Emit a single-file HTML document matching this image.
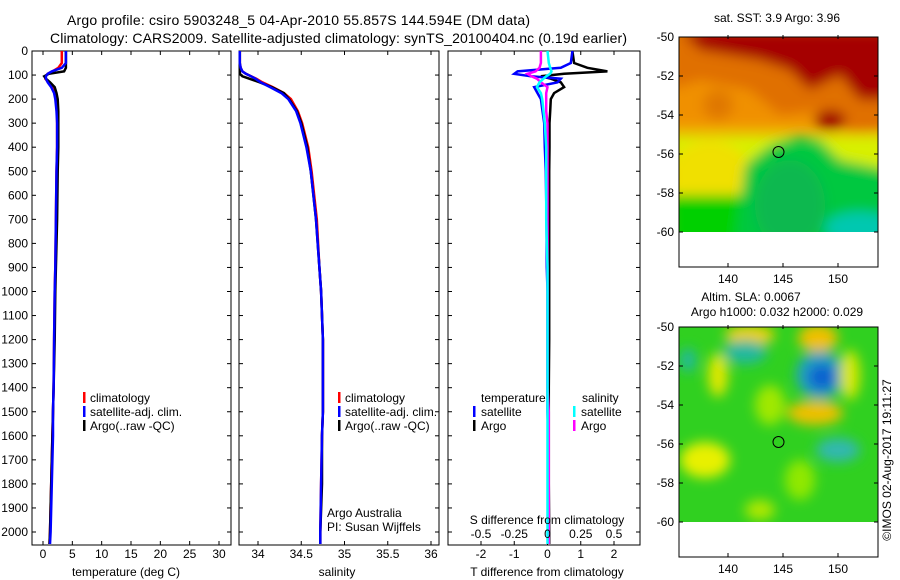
<!DOCTYPE html>
<html><head><meta charset="utf-8"><style>
html,body{margin:0;padding:0;background:#fff;}
svg{display:block;font-family:"Liberation Sans",sans-serif;}
</style></head><body>
<svg id="c" width="900" height="580" viewBox="0 0 900 580">
<defs>
<filter id="blur" x="-20%" y="-20%" width="140%" height="140%"><feGaussianBlur stdDeviation="6"/></filter>
<clipPath id="clipTop"><rect x="679" y="37" width="199" height="195"/></clipPath>
<clipPath id="clipBot"><rect x="679" y="327" width="199" height="195"/></clipPath>
</defs>
<text x="67" y="25" font-size="14" textLength="463">Argo profile: csiro 5903248_5 04-Apr-2010 55.857S 144.594E (DM data)</text>
<text x="50" y="43" font-size="14" textLength="577">Climatology: CARS2009. Satellite-adjusted climatology: synTS_20100404.nc (0.19d earlier)</text>

<!-- top map -->
<g>
<g clip-path="url(#clipTop)">
<rect x="679" y="37" width="199" height="195" fill="#f0a800"/>
<g filter="url(#blur)">
<rect x="670" y="135" width="220" height="80" fill="#d8f000"/>
<ellipse cx="710" cy="175" rx="40" ry="35" fill="#f0e000"/>
<rect x="670" y="195" width="220" height="60" fill="#00d000"/>
<polygon points="745,165 770,145 800,135 820,140 840,160 890,170 890,240 735,240" fill="#00c840"/>
<ellipse cx="790" cy="205" rx="35" ry="45" fill="#10b850"/>
<ellipse cx="860" cy="228" rx="35" ry="16" fill="#00c8b0"/>
<rect x="670" y="80" width="220" height="45" fill="#f09000"/>
<polygon points="670,30 890,30 890,130 850,132 820,110 780,115 750,90 700,80 670,90" fill="#e07000"/>
<polygon points="680,30 890,30 890,100 860,100 840,75 810,90 790,70 760,60 700,50" fill="#a50000"/>
<ellipse cx="830" cy="120" rx="16" ry="10" fill="#a00000"/>
<ellipse cx="718" cy="105" rx="15" ry="15" fill="#e07800"/>
</g>
</g>
<rect x="679" y="37" width="199" height="230" fill="none" stroke="#000" stroke-width="1"/>
<circle cx="778.5" cy="152" r="5.5" fill="none" stroke="#000" stroke-width="1"/>
</g>
<text x="777" y="22" font-size="12" text-anchor="middle">sat. SST: 3.9 Argo: 3.96</text>

<!-- bottom map -->
<g>
<g clip-path="url(#clipBot)">
<rect x="679" y="327" width="199" height="195" fill="#30d020"/>
<g filter="url(#blur)">
<ellipse cx="750" cy="335" rx="25" ry="10" fill="#f0d000"/>
<ellipse cx="818" cy="338" rx="20" ry="14" fill="#f0c000"/>
<ellipse cx="745" cy="352" rx="22" ry="12" fill="#20b8a0"/>
<ellipse cx="718" cy="375" rx="10" ry="22" fill="#e0e800"/>
<ellipse cx="688" cy="360" rx="8" ry="12" fill="#20b8a0"/>
<ellipse cx="820" cy="375" rx="24" ry="24" fill="#20a0c0"/>
<ellipse cx="822" cy="377" rx="14" ry="13" fill="#1060d0"/>
<ellipse cx="815" cy="413" rx="28" ry="12" fill="#f0c000"/>
<ellipse cx="850" cy="375" rx="10" ry="25" fill="#d8e800"/>
<ellipse cx="838" cy="450" rx="22" ry="12" fill="#30b8b0"/>
<ellipse cx="705" cy="460" rx="25" ry="18" fill="#e8f000"/>
<ellipse cx="770" cy="405" rx="15" ry="20" fill="#a0e800"/>
<ellipse cx="800" cy="480" rx="15" ry="20" fill="#90e800"/>
<ellipse cx="760" cy="510" rx="15" ry="10" fill="#b0e800"/>
</g>
</g>
<rect x="679" y="327" width="199" height="230" fill="none" stroke="#000" stroke-width="1"/>
<circle cx="778.5" cy="442" r="5.5" fill="none" stroke="#000" stroke-width="1"/>
</g>
<text x="751" y="301" font-size="12" text-anchor="middle">Altim. SLA: 0.0067</text>
<text x="777" y="316" font-size="12" text-anchor="middle">Argo h1000: 0.032 h2000: 0.029</text>
<text x="0" y="0" font-size="12" text-anchor="middle" transform="translate(891,460) rotate(-90)">©IMOS 02-Aug-2017 19:11:27</text>

<g id="plots"></g>
</svg>
<script>
// depths (m) shared by profiles
const depthT = [0, 50, 70, 85, 95, 105, 115, 130, 150, 175, 200, 250, 300, 400, 500, 700, 900, 1000, 1200, 1400, 1500, 1600, 1800, 2000, 2050];
const tempClim = [3.2, 3.2, 2.6, 1.6, 0.8, 0.4, 0.4, 0.9, 1.6, 2.0, 2.2, 2.4, 2.4, 2.4, 2.3, 2.2, 2.1, 2.0, 1.9, 1.8, 1.7, 1.6, 1.4, 1.2, 1.1];
const tempSat = [3.9, 3.9, 3.2, 1.5, 0.8, 0.5, 0.5, 0.8, 1.4, 1.9, 2.1, 2.3, 2.4, 2.4, 2.3, 2.2, 2.1, 2.0, 1.9, 1.8, 1.7, 1.7, 1.5, 1.3, 1.2];
const tempArgo = [3.9, 3.9, 3.9, 3.6, 1.0, 0.2, 0.5, 1.2, 2.0, 2.3, 2.5, 2.6, 2.6, 2.6, 2.5, 2.4, 2.2, 2.1, 2.0, 1.8, 1.7, 1.6, 1.4, 1.2, 1.1];
const salClim = [33.79, 33.79, 33.80, 33.82, 33.86, 33.92, 33.98, 34.05, 34.17, 34.30, 34.38, 34.46, 34.51, 34.58, 34.62, 34.68, 34.71, 34.73, 34.75, 34.75, 34.75, 34.74, 34.73, 34.72, 34.72];
const salSat = [33.79, 33.79, 33.80, 33.82, 33.86, 33.92, 33.97, 34.03, 34.14, 34.27, 34.35, 34.44, 34.49, 34.56, 34.61, 34.67, 34.71, 34.73, 34.75, 34.75, 34.75, 34.74, 34.73, 34.72, 34.72];
const salArgo = [33.79, 33.79, 33.79, 33.79, 33.79, 33.82, 33.90, 34.02, 34.16, 34.30, 34.36, 34.45, 34.50, 34.57, 34.61, 34.67, 34.71, 34.73, 34.75, 34.75, 34.75, 34.74, 34.74, 34.72, 34.72];
const dTSat = [0.75, 0.7, 0.4, -0.9, -1.0, -0.5, 0.4, 0.3, -0.4, -0.3, -0.2, -0.15, -0.1, -0.08, -0.05, -0.03, -0.02, 0, 0, 0, 0, 0.02, 0.02, 0.03, 0.03];
const dTArgo = [0.75, 0.8, 1.2, 1.8, 0.5, -0.2, 0.1, 0.4, 0.5, 0.2, 0.1, 0.08, 0.06, 0.06, 0.05, 0.05, 0.05, 0.05, 0.05, 0.04, 0.04, 0.04, 0.04, 0.05, 0.05];
const dSSat = [0, 0.01, 0.02, 0.03, 0.02, -0.01, -0.03, -0.06, -0.08, -0.05, -0.04, -0.03, -0.02, -0.01, -0.01, -0.01, 0, 0, 0, 0, 0, 0, 0, 0, 0];
const dSArgo = [-0.05, -0.05, -0.06, -0.09, -0.15, -0.12, -0.08, -0.05, 0.0, -0.01, -0.01, -0.01, 0, 0, 0, 0, 0, 0, 0, 0, 0.01, 0.01, 0.01, 0.01, 0.01];
const depthTicks = [0,100,200,300,400,500,600,700,800,900,1000,1100,1200,1300,1400,1500,1600,1700,1800,1900,2000];
const tempTicks = [0,5,10,15,20,25,30];
const salTicks = [34,34.5,35,35.5,36];
const tdTicks = [-2,-1,0,1,2];
const sdTicks = [-0.5,-0.25,0,0.25,0.5];
const lonTicks = [140,145,150];
const latTicks = [-50,-52,-54,-56,-58,-60];

const NS='http://www.w3.org/2000/svg';
const root=document.getElementById('plots');
function mk(tag,attrs,parent){const e=document.createElementNS(NS,tag);for(const k in attrs)e.setAttribute(k,attrs[k]);(parent||root).appendChild(e);return e;}
const Y0=51, Y1=545;
const yD = d => Y0 + d*0.2405;
function lin(d0,d1,r0,r1){return v=>r0+(v-d0)*(r1-r0)/(d1-d0);}
const xT = lin(0,30,43,219);
const xS = lin(34,36,258,431);
const xTD = lin(-2,2,481,614);
const xSD = lin(-0.5,0.5,481,614);

function box(x0,x1,name){
  const r=mk('rect',{x:x0,y:Y0,width:x1-x0,height:Y1-Y0,fill:'none',stroke:'#000','stroke-width':1});
  
  
  depthTicks.forEach(d=>{
    mk('line',{x1:x0,x2:x0+4,y1:yD(d),y2:yD(d),stroke:'#000'});
    mk('line',{x1:x1-4,x2:x1,y1:yD(d),y2:yD(d),stroke:'#000'});
  });
}
function xticks(ticks,sc,labels,ly){
  ticks.forEach(t=>{
    mk('line',{x1:sc(t),x2:sc(t),y1:Y0,y2:Y0+4,stroke:'#000'});
    mk('line',{x1:sc(t),x2:sc(t),y1:Y1-4,y2:Y1,stroke:'#000'});
    if(labels){const tx=mk('text',{x:sc(t),y:ly,'font-size':12,'text-anchor':'middle'});tx.textContent=String(t);
      
      }
  });
}
function line(vals,sc,color,name){
  let d='';
  vals.forEach((v,i)=>{d+=(i?'L':'M')+sc(v).toFixed(1)+','+yD(depthT[i]).toFixed(1);});
  const p=mk('path',{d:d,fill:'none',stroke:color,'stroke-width':2.5});
  
  
}
function txt(x,y,s,name,anchor){const t=mk('text',{x:x,y:y,'font-size':12,'text-anchor':anchor||'start'});t.textContent=s;
  
  return t;}
function legbar(x,y,color){mk('rect',{x:x,y:y-10,width:2.5,height:11,fill:color});}

depthTicks.forEach(d=>{txt(28,yD(d)+4,String(d),'y-tick-label','end');});

box(32,231,'temperature-panel');
xticks(tempTicks,xT,true,558);
line(tempClim,xT,'#f00','temp-climatology-line');
line(tempArgo,xT,'#000','temp-argo-line');
line(tempSat,xT,'#00f','temp-satellite-line');
txt(126,576,'temperature (deg C)','temperature-axis-title','middle');
[['#f00','climatology'],['#00f','satellite-adj. clim.'],['#000','Argo(..raw -QC)']].forEach((e,i)=>{
  legbar(83,402+i*14,e[0]);txt(90,402+i*14,e[1],'temp-legend-entry');
});

box(239,439,'salinity-panel');
xticks(salTicks,xS,true,558);
line(salClim,xS,'#f00','sal-climatology-line');
line(salArgo,xS,'#000','sal-argo-line');
line(salSat,xS,'#00f','sal-satellite-line');
txt(337,576,'salinity','salinity-axis-title','middle');
[['#f00','climatology'],['#00f','satellite-adj. clim.'],['#000','Argo(..raw -QC)']].forEach((e,i)=>{
  legbar(338,402+i*14,e[0]);txt(345,402+i*14,e[1],'sal-legend-entry');
});
txt(327,517,'Argo Australia','argo-australia-label');
txt(327,531,'PI: Susan Wijffels','pi-label');

box(448,640,'difference-panel');
xticks(tdTicks,xTD,true,558);
line(dTArgo,xTD,'#000','t-diff-argo-line');
line(dTSat,xTD,'#00f','t-diff-satellite-line');
line(dSArgo,xSD,'#f0f','s-diff-argo-line');
line(dSSat,xSD,'#0ff','s-diff-satellite-line');
sdTicks.forEach(t=>{txt(xSD(t),538,String(t),'s-tick-label','middle');});
txt(547,524,'S difference from climatology','s-diff-axis-title','middle');
txt(547,576,'T difference from climatology','t-diff-axis-title','middle');
txt(481,402,'temperature','legend-temperature-header');
txt(582,402,'salinity','legend-salinity-header');
legbar(473,416,'#00f');txt(481,416,'satellite','legend-t-satellite');
legbar(473,430,'#000');txt(481,430,'Argo','legend-t-argo');
legbar(573,416,'#0ff');txt(581,416,'satellite','legend-s-satellite');
legbar(573,430,'#f0f');txt(581,430,'Argo','legend-s-argo');

const xLon = lin(140,150,728,838);
[[37,267,283],[327,557,573]].forEach(m=>{
  const yLat = lin(-50,-60,m[0],m[0]+195);
  latTicks.forEach(l=>{mk('line',{x1:679,x2:683,y1:yLat(l),y2:yLat(l),stroke:'#000'});mk('line',{x1:874,x2:878,y1:yLat(l),y2:yLat(l),stroke:'#000'});
    txt(674,yLat(l)+4,String(l),'map-lat-label','end');});
  lonTicks.forEach(l=>{mk('line',{x1:xLon(l),x2:xLon(l),y1:m[0]-2,y2:m[0]+2,stroke:'#000'});mk('line',{x1:xLon(l),x2:xLon(l),y1:m[1]-4,y2:m[1],stroke:'#000'});
    txt(xLon(l),m[2],String(l),'map-lon-label','middle');});
});
</script>
</body></html>
